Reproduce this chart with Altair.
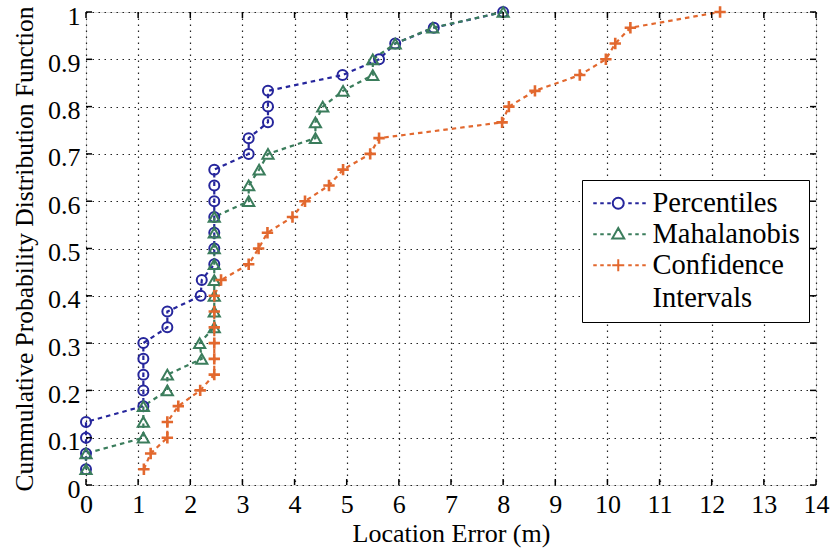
import altair as alt
import pandas as pd

# ---------------- data ----------------
cdf = [0.0333, 0.0667, 0.1, 0.1333, 0.1667, 0.2, 0.2333, 0.2667, 0.3, 0.3333,
       0.3667, 0.4, 0.4333, 0.4667, 0.5, 0.5333, 0.5667, 0.6, 0.6333, 0.6667,
       0.7, 0.7333, 0.7667, 0.8, 0.8333, 0.8667, 0.9, 0.9333, 0.9667, 1.0]

percentiles = [0.0, 0.0, 0.0, 0.0, 1.1, 1.1, 1.1, 1.1, 1.1, 1.56,
               1.56, 2.2, 2.22, 2.46, 2.46, 2.46, 2.46, 2.46, 2.46, 2.46,
               3.12, 3.12, 3.49, 3.49, 3.49, 4.92, 5.62, 5.93, 6.67, 8.0]

mahalanobis = [0.0, 0.0, 1.1, 1.1, 1.1, 1.56, 1.56, 2.22, 2.18, 2.46,
               2.46, 2.46, 2.46, 2.46, 2.46, 2.46, 2.46, 3.12, 3.12, 3.32,
               3.49, 4.40, 4.40, 4.54, 4.93, 5.50, 5.50, 5.93, 6.65, 8.0]

confidence = [1.11, 1.24, 1.56, 1.56, 1.77, 2.19, 2.46, 2.46, 2.46, 2.46,
              2.46, 2.46, 2.59, 3.12, 3.31, 3.48, 3.96, 4.20, 4.66, 4.93,
              5.45, 5.62, 7.98, 8.11, 8.61, 9.47, 9.97, 10.15, 10.44, 12.16]

series_names = ["Percentiles", "Mahalanobis", "Confidence Intervals"]
colors = ["#26269c", "#3b7d5c", "#e2682e"]

x_ticks = [0, 1, 2, 3, 4, 5, 6, 7, 8, 9, 10, 11, 12, 13, 14]
y_ticks = [0, 0.1, 0.2, 0.3, 0.4, 0.5, 0.6, 0.7, 0.8, 0.9, 1]

rows = []
for name, xs in zip(series_names, [percentiles, mahalanobis, confidence]):
    for i, (xv, yv) in enumerate(zip(xs, cdf)):
        rows.append({"series": name, "x": xv, "y": yv, "idx": i})
df = pd.DataFrame(rows)

# ---------------- style ----------------
W, H = 730, 473
FONT = "Liberation Serif"

x_scale = alt.Scale(domain=[0, 14], nice=False, zero=False)
y_scale = alt.Scale(domain=[0, 1], nice=False, zero=False)
color_scale = alt.Scale(domain=series_names, range=colors)

grid_style = dict(grid=True, gridDash=[1.5, 4.5], gridColor="#222222", gridWidth=1.2)

x_axis = alt.Axis(values=x_ticks, title="Location Error (m)", ticks=False, domain=False,
                  labelFont=FONT, labelFontSize=26, labelColor="black", labelPadding=6,
                  labelFlush=False, labelOverlap=False,
                  titleFont=FONT, titleFontSize=26, titleFontWeight="normal",
                  titleColor="black", titlePadding=3, **grid_style)

y_axis = alt.Axis(values=y_ticks, title="Cummulative Probability Distribution Function",
                  ticks=False, domain=False,
                  labelExpr="datum.value == 0 ? '0' : (datum.value == 1 ? '1' : format(datum.value, '.1f'))",
                  labelFont=FONT, labelFontSize=26, labelColor="black", labelPadding=6,
                  labelOffset=4, labelFlush=False, labelOverlap=False,
                  titleFont=FONT, titleFontSize=25.5, titleFontWeight="normal",
                  titleColor="black", titlePadding=10, **grid_style)

# legend symbols: dashed line segment with the marker in its middle (unit = 5 px)
dash_l = "M-2.4,0H-1.7M-1,0H-0.3M0.4,0H1.1"
dash_r = "M4.6,0H5.3M6,0H6.7M7.4,0H8.1"
legend_shapes = [
    dash_l + "M3.7,0A1.1,1.1 0 1,1 1.5,0A1.1,1.1 0 1,1 3.7,0Z" + dash_r,
    dash_l + "M2.6,-1.25L3.8,0.85L1.4,0.85Z" + dash_r,
    dash_l + "M1.4,0H3.8M2.6,-1.2V1.2" + dash_r,
]

LEG = alt.Legend(
    title=None, orient="none", legendX=496, legendY=168,
    labelFont=FONT, labelFontSize=28.5, labelColor="black", labelLimit=400,
    labelOffset=33, padding=9, rowPadding=2, cornerRadius=0,
    symbolSize=100, symbolStrokeWidth=2, symbolFillColor="transparent",
    symbolOpacity=1,
    strokeColor="black", fillColor="white",
    labelExpr="datum.label == 'Confidence Intervals' ? ['Confidence', 'Intervals'] : datum.label",
)

X = lambda f: alt.X(f, scale=x_scale, axis=x_axis)
Y = lambda f: alt.Y(f, scale=y_scale, axis=y_axis)

# ---------------- legend layer (no marks drawn, only the legend) ----------------
legend_layer = alt.Chart(df).transform_filter("datum.idx < 0").mark_point(
    filled=False, opacity=1
).encode(
    x=X("x:Q"), y=Y("y:Q"),
    color=alt.Color("series:N", scale=color_scale, legend=LEG),
    shape=alt.Shape("series:N", scale=alt.Scale(domain=series_names, range=legend_shapes), legend=LEG),
)

# ---------------- tick marks (inward, MATLAB style) ----------------
xt = pd.DataFrame({"x": x_ticks})
yt = pd.DataFrame({"y": y_ticks})
tick_style = dict(color="black", strokeWidth=1.5)

ticks_bottom = alt.Chart(xt).mark_rule(**tick_style).encode(
    x=X("x:Q"), y=alt.value(H), y2=alt.value(H - 6))
ticks_top = alt.Chart(xt).mark_rule(**tick_style).encode(
    x=X("x:Q"), y=alt.value(0), y2=alt.value(6))
ticks_left = alt.Chart(yt).mark_rule(**tick_style).encode(
    y=Y("y:Q"), x=alt.value(0), x2=alt.value(6))
ticks_right = alt.Chart(yt).mark_rule(**tick_style).encode(
    y=Y("y:Q"), x=alt.value(W), x2=alt.value(W - 6))

# ---------------- data layers ----------------
lines = alt.Chart(df).mark_line(strokeDash=[4.5, 4], strokeWidth=2.2).encode(
    x=X("x:Q"), y=Y("y:Q"),
    color=alt.Color("series:N", scale=color_scale, legend=LEG),
    order=alt.Order("idx:Q"),
)

marker_shapes = ["circle", "triangle-up", "M-1,0H1M0,-1V1"]
marker_sizes = [100, 125, 130]
marker_widths = [2, 2, 2.6]

point_layers = []
for name, shp, sz, sw in zip(series_names, marker_shapes, marker_sizes, marker_widths):
    point_layers.append(
        alt.Chart(df).transform_filter(alt.datum.series == name).mark_point(
            shape=shp, size=sz, filled=False, strokeWidth=sw, opacity=1
        ).encode(
            x=X("x:Q"), y=Y("y:Q"),
            color=alt.Color("series:N", scale=color_scale, legend=LEG),
        )
    )

chart = alt.layer(
    legend_layer, lines, *point_layers, ticks_bottom, ticks_top, ticks_left, ticks_right
).properties(
    width=W, height=H,
    autosize=alt.AutoSizeParams(type="none"),
    padding={"left": 86, "top": 12, "right": 16, "bottom": 65},
    background="white",
).configure_view(stroke="black", strokeWidth=2).configure(
    style={"guide-label": {"lineHeight": 33}}
)

chart.save("out.html", embed_options={"renderer": "svg", "actions": False})
